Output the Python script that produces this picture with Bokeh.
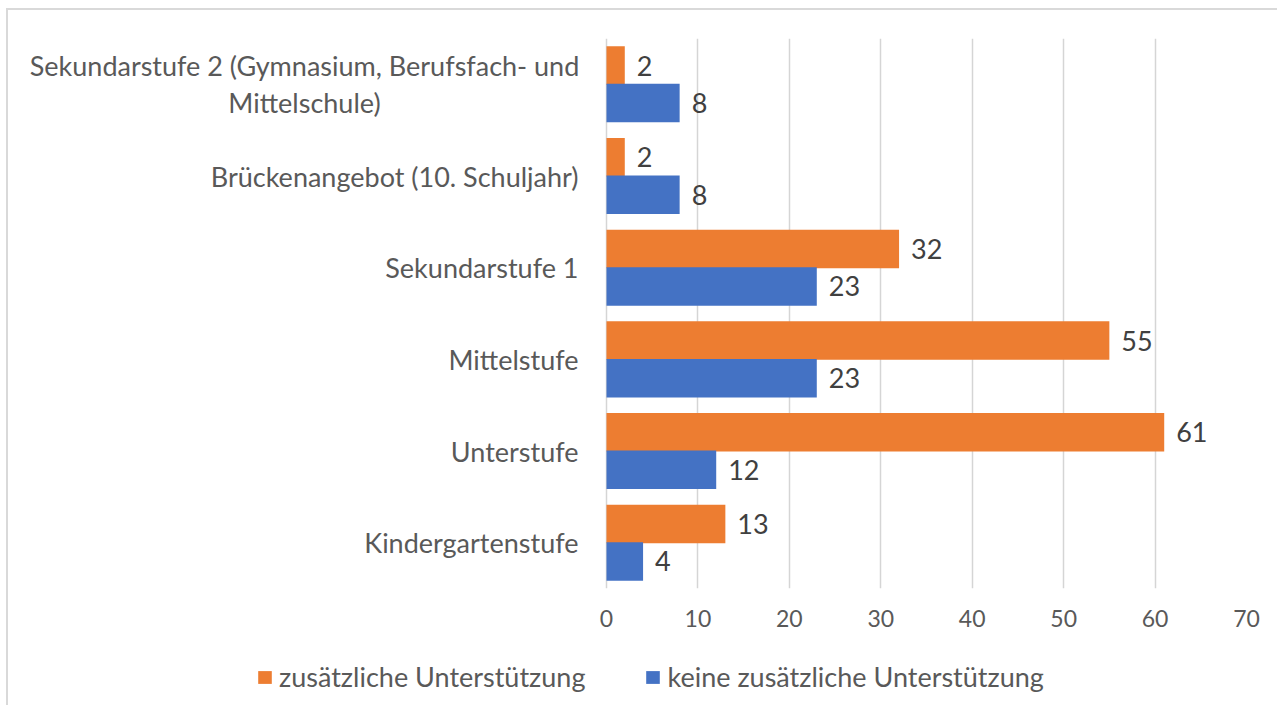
from bokeh.plotting import figure
from bokeh.layouts import column
from bokeh.models import ColumnDataSource, Legend, LegendItem, FactorRange, Range1d, LabelSet, FixedTicker
from bokeh.transform import dodge
from bokeh.embed import file_html
from bokeh.resources import INLINE
from bokeh.core.properties import value

categories = [
    "Kindergartenstufe",
    "Unterstufe",
    "Mittelstufe",
    "Sekundarstufe 1",
    "Brückenangebot (10. Schuljahr)",
    "Sekundarstufe 2 (Gymnasium, Berufsfach- und\nMittelschule)",
]
zusaetzlich = [13, 61, 55, 32, 2, 2]
keine = [4, 12, 23, 23, 8, 8]
series_names = ["zusätzliche Unterstützung", "keine zusätzliche Unterstützung"]
x_ticks = [0, 10, 20, 30, 40, 50, 60, 70]

ORANGE = "#ED7D31"
BLUE = "#4472C4"
FONT = "Lato"

# layout (pixels): label area left of the value axis, value axis 640 px for 0..70
LABEL_AREA = 598
AXIS_PX = 640
X_MAX = x_ticks[-1]
x_start = -LABEL_AREA * X_MAX / AXIS_PX

src = ColumnDataSource(dict(
    cat=categories,
    zus=zusaetzlich,
    keine=keine,
    zus_txt=[str(v) for v in zusaetzlich],
    keine_txt=[str(v) for v in keine],
))
single = [c for c in categories if "\n" not in c]
multi = [c for c in categories if "\n" in c]
src_single = ColumnDataSource(dict(cat=single))
src_multi = ColumnDataSource(dict(cat=multi))

p = figure(
    frame_width=LABEL_AREA + AXIS_PX, frame_height=550,
    y_range=FactorRange(factors=categories, range_padding=0),
    x_range=Range1d(x_start, X_MAX),
    y_axis_location=None,
    output_backend="svg", toolbar_location=None,
    min_border_left=0, min_border_right=31, min_border_top=28, min_border_bottom=55,
)
p.outline_line_color = None

r1 = p.hbar(y=dodge("cat", 0.205, range=p.y_range), right="zus", height=0.42,
            source=src, fill_color=ORANGE, line_color=None)
r2 = p.hbar(y=dodge("cat", -0.205, range=p.y_range), right="keine", height=0.42,
            source=src, fill_color=BLUE, line_color=None)

for col, txtcol, off in (("zus", "zus_txt", 0.205), ("keine", "keine_txt", -0.205)):
    p.add_layout(LabelSet(
        x=col, y=dodge("cat", off, range=p.y_range), text=txtcol, source=src,
        x_offset=12, text_baseline="middle", text_align="left",
        text_font=value(FONT), text_font_size=value("27px"), text_color="#404040",
    ))

# category labels
p.text(x=0, y="cat", text="cat", source=src_single, x_offset=-28,
       text_baseline="middle", text_align="right",
       text_font=value(FONT), text_font_size=value("27px"), text_color="#595959")
p.text(x=0, y="cat", text="cat", source=src_multi, x_offset=-302,
       text_baseline="middle", text_align="center", text_line_height=1.12,
       text_font=value(FONT), text_font_size=value("27px"), text_color="#595959")

# axes
p.xaxis.ticker = FixedTicker(ticks=x_ticks)
p.xaxis.axis_line_color = None
p.xaxis.major_tick_line_color = None
p.xaxis.minor_tick_line_color = None
p.xaxis.major_tick_out = 0
p.xaxis.major_label_text_font = FONT
p.xaxis.major_label_text_font_size = "23px"
p.xaxis.major_label_text_color = "#595959"
p.xaxis.major_label_standoff = 21

p.ygrid.grid_line_color = None
p.xgrid.grid_line_color = "#d5d5d5"
p.xgrid.grid_line_width = 1.5

# legend strip below the chart (zero-width bars only provide the legend swatches)
lg = figure(
    width=LABEL_AREA + AXIS_PX + 31, height=62,
    x_range=Range1d(0, 1), y_range=Range1d(0, 1),
    x_axis_location=None, y_axis_location=None,
    output_backend="svg", toolbar_location=None,
    min_border_left=0, min_border_right=0, min_border_top=0, min_border_bottom=0,
)
lg.outline_line_color = None
lg.xgrid.grid_line_color = None
lg.ygrid.grid_line_color = None
lr1 = lg.hbar(y=[0.5], left=[0], right=[0], height=0.5, fill_color=ORANGE, line_color=None)
lr2 = lg.hbar(y=[0.5], left=[0], right=[0], height=0.5, fill_color=BLUE, line_color=None)

legend = Legend(
    items=[LegendItem(label=series_names[0], renderers=[lr1]),
           LegendItem(label=series_names[1], renderers=[lr2])],
    orientation="horizontal", location=(248, 12),
    label_text_font=FONT, label_text_font_size="27px", label_text_color="#595959",
    glyph_width=17, glyph_height=16, label_standoff=6, spacing=59,
    border_line_color=None, background_fill_alpha=0, margin=0, padding=0,
)
lg.add_layout(legend, "center")

layout = column(p, lg, spacing=0)
layout.margin = (8, 0, 0, 6)
layout.styles = {"border-top": "2px solid #d9d9d9", "border-left": "2px solid #d9d9d9"}

open("out.html", "w").write(file_html(layout, INLINE))
